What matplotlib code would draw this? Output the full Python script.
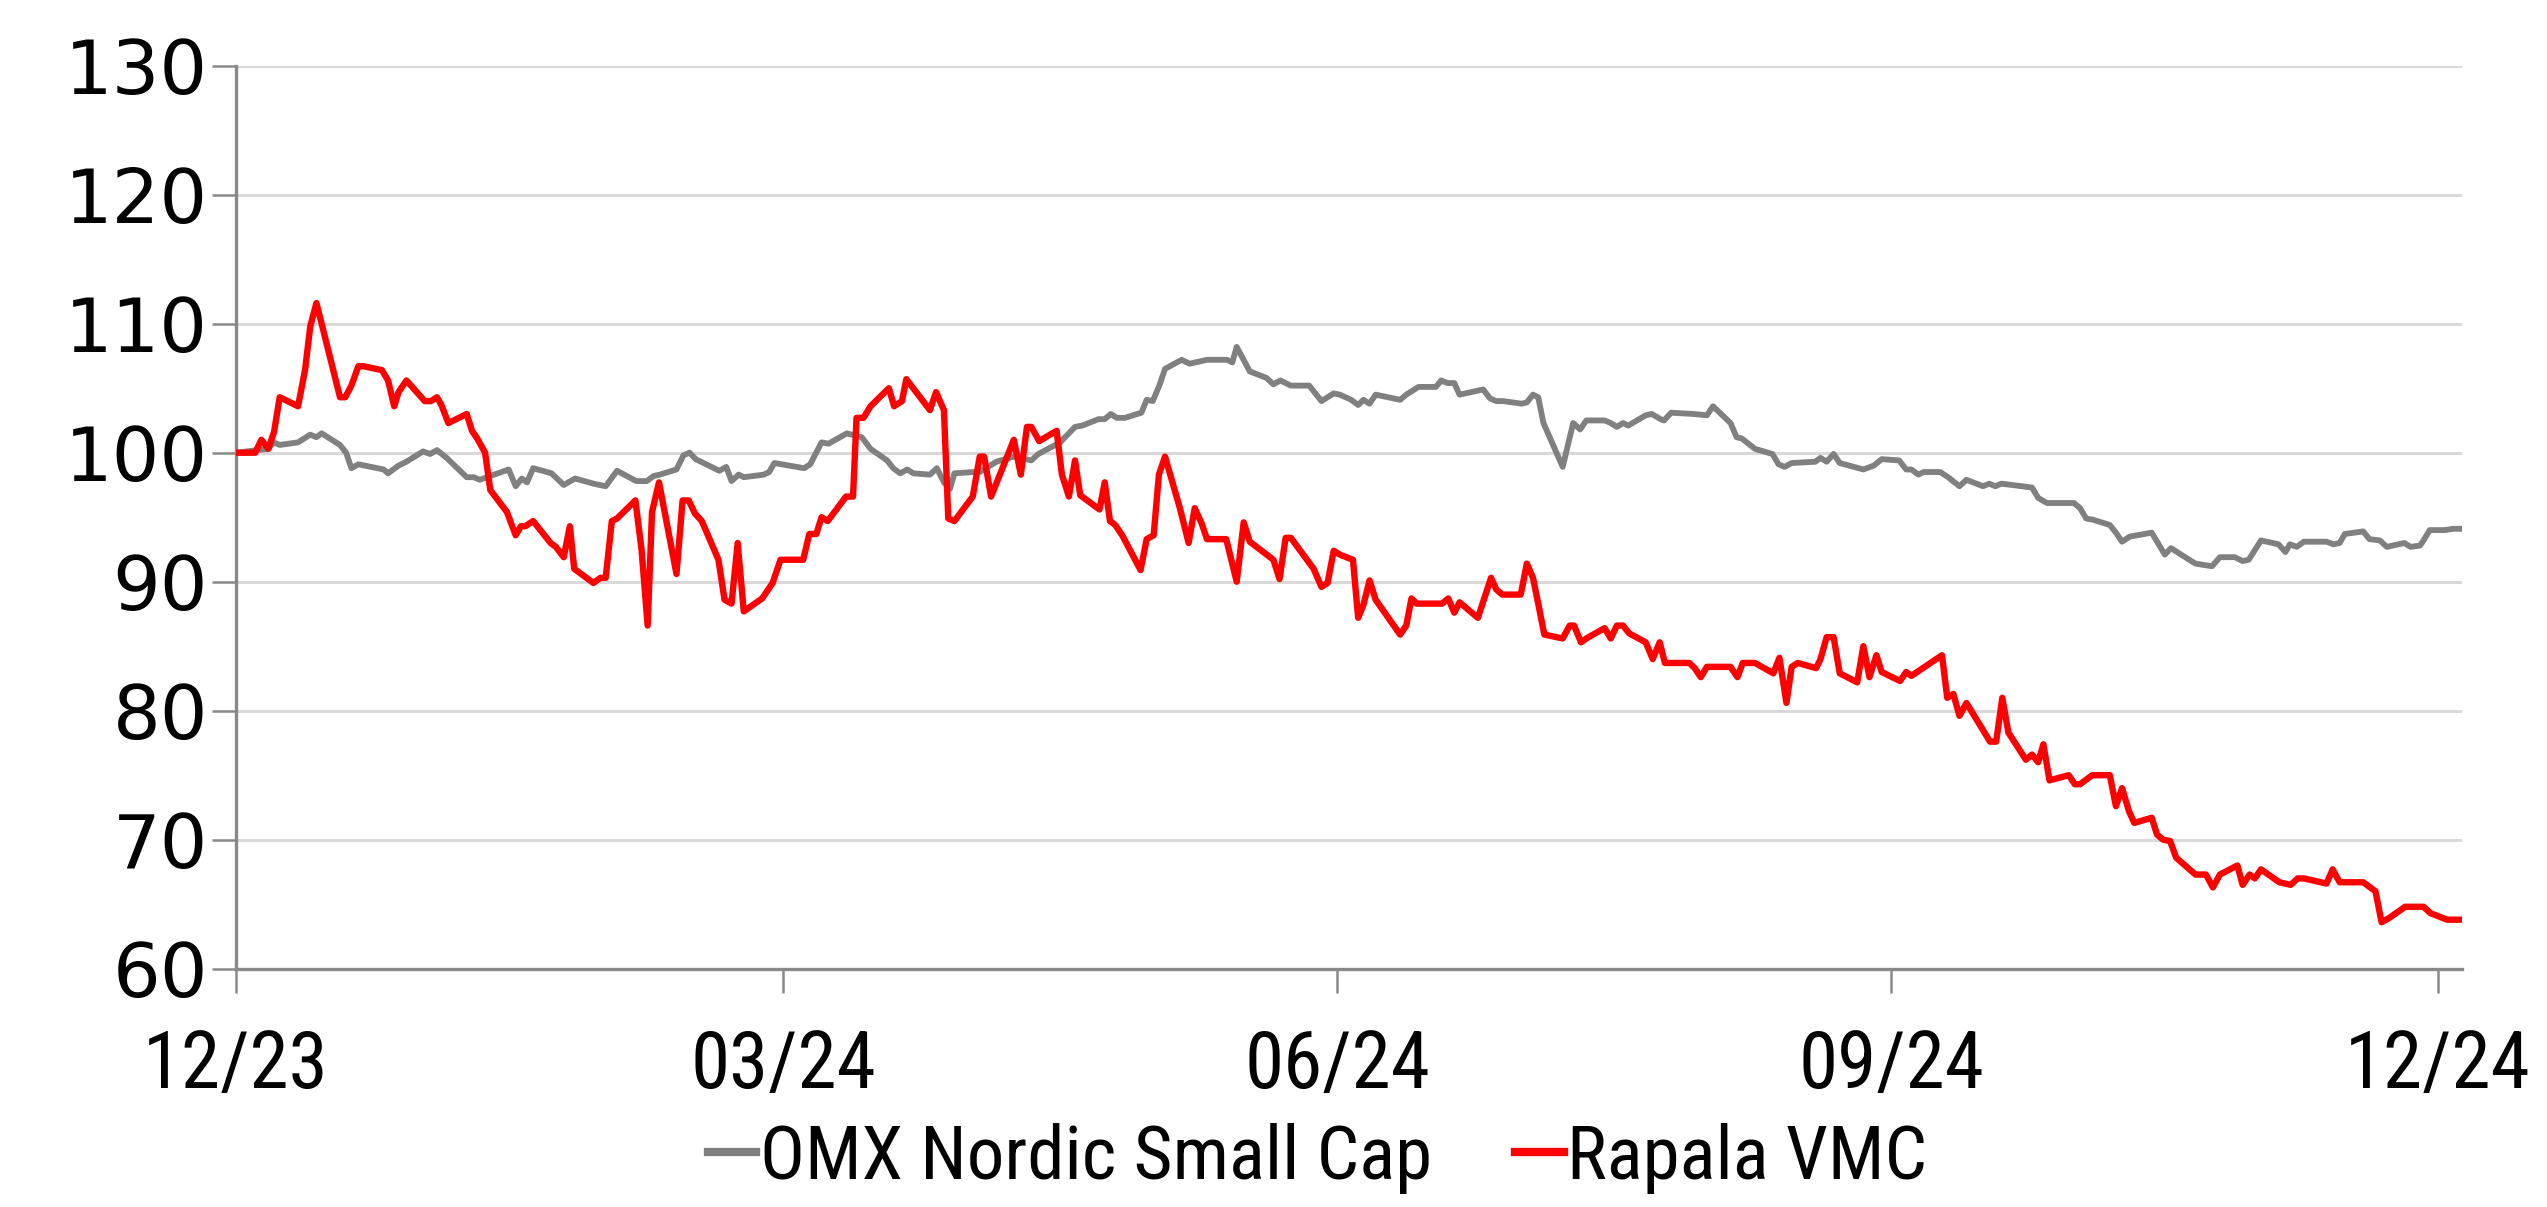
import matplotlib
matplotlib.use("Agg")
import matplotlib.pyplot as plt
from matplotlib import font_manager as fm

# ---- data (x = trading-day position, y = indexed value) ----
omx_x = [0, 3.7, 4.3, 5.0, 7.1, 8.5, 9.2, 9.8, 11.9, 12.6, 13.2, 14.0, 16.9, 17.4, 18.6, 19.5,
         21.4, 22.2, 23.0, 24.1, 26.4, 27.2, 27.9, 28.7, 31.2, 32.0, 32.7, 33.3, 34.0, 36.1,
         37.5, 38.8, 40.9, 42.3, 43.6, 45.8, 47.0, 47.8, 48.5, 50.4, 51.2, 51.9, 52.6, 55.3,
         56.1, 56.7, 57.5, 58.1, 60.4, 61.0, 61.6, 65.0, 65.7, 67.0, 67.8, 69.9, 71.6, 72.6,
         74.5, 75.2, 76.0, 76.8, 77.5, 79.4, 80.2, 81.0, 81.7, 82.2, 84.4, 85.1, 87.0, 89.0,
         91.0, 91.8, 94.3, 96.0, 96.8, 98.7, 99.4, 100.1, 100.8, 101.7, 103.6, 104.2, 104.9,
         105.7, 106.3, 108.2, 109.1, 111.1, 113.4, 114.0, 114.5, 116.0, 117.9, 118.7, 119.5,
         120.7, 122.8, 124.2, 125.6, 126.3, 127.6, 128.4, 129.0, 129.7, 130.4, 133.2, 133.9,
         135.3, 137.3, 137.9, 138.6, 139.4, 140.0, 142.7, 143.5, 144.2, 145.0, 147.1, 147.7,
         148.4, 149.0, 149.6, 151.8, 153.0, 153.8, 154.5, 156.6, 157.3, 158.0, 158.7, 159.3,
         161.3, 162.0, 163.0, 163.4, 164.2, 166.8, 168.3, 169.0, 171.0, 171.7, 172.3, 173.8,
         175.8, 176.5, 177.2, 178.0, 180.7, 181.3, 182.0, 182.8, 183.5, 186.2, 187.4, 188.3,
         190.3, 191.1, 191.7, 192.5, 193.1, 195.0, 195.9, 197.2, 198.0, 199.9, 200.6, 201.3,
         202.0, 205.5, 206.2, 207.2, 210.3, 211.0, 211.7, 212.5, 214.4, 215.1, 215.8, 216.7,
         219.2, 220.7, 221.4, 224.2, 226.1, 227.0, 228.7, 229.6, 230.3, 231.7, 233.7, 234.5,
         235.0, 235.8, 236.6, 239.2, 240.0, 240.7, 241.3, 243.4, 244.1, 245.3, 246.1, 248.1,
         248.8, 249.9, 250.3, 251.0, 252.7, 253.7, 254.5]
omx_y = [100, 100.3, 100.8, 100.6, 100.8, 101.4, 101.2, 101.5, 100.6, 100.0, 98.8, 99.1, 98.7,
         98.4, 99.0, 99.3, 100.1, 99.9, 100.2, 99.6, 98.1, 98.1, 97.9, 98.1, 98.7, 97.4, 98.0,
         97.7, 98.8, 98.4, 97.5, 98.0, 97.6, 97.4, 98.6, 97.8, 97.8, 98.2, 98.3, 98.7, 99.8,
         100.0, 99.5, 98.6, 98.9, 97.8, 98.3, 98.1, 98.3, 98.5, 99.2, 98.8, 99.1, 100.8, 100.7,
         101.5, 101.2, 100.3, 99.4, 98.8, 98.4, 98.7, 98.4, 98.3, 98.8, 97.7, 97.2, 98.4, 98.5,
         98.5, 99.3, 99.7, 99.4, 99.9, 100.8, 102.0, 102.1, 102.6, 102.6, 103.0, 102.7, 102.7,
         103.1, 104.1, 104.0, 105.3, 106.5, 107.2, 106.9, 107.2, 107.2, 107.0, 108.2, 106.3,
         105.8, 105.3, 105.6, 105.2, 105.2, 104.0, 104.6, 104.5, 104.1, 103.7, 104.1, 103.8,
         104.5, 104.1, 104.5, 105.1, 105.1, 105.6, 105.4, 105.4, 104.5, 104.9, 104.2, 104.0,
         104.0, 103.8, 103.9, 104.5, 104.3, 102.3, 98.9, 102.3, 101.8, 102.5, 102.5, 102.3,
         102.0, 102.3, 102.1, 102.9, 103.0, 102.6, 102.5, 103.1, 103.0, 102.9, 103.6, 102.3,
         101.2, 101.1, 100.3, 99.9, 99.1, 98.9, 99.2, 99.3, 99.6, 99.3, 99.9, 99.2, 98.7, 99.0,
         99.5, 99.4, 98.7, 98.7, 98.3, 98.5, 98.5, 98.1, 97.4, 97.9, 97.4, 97.6, 97.4, 97.6,
         97.3, 96.5, 96.1, 96.1, 95.7, 94.9, 94.8, 94.4, 93.8, 93.1, 93.5, 93.8, 92.1, 92.6,
         91.4, 91.2, 91.9, 91.9, 91.6, 91.7, 93.2, 92.9, 92.3, 92.9, 92.7, 93.1, 93.1, 92.9,
         93.0, 93.7, 93.9, 93.3, 93.2, 92.7, 93.0, 92.7, 92.8, 93.2, 94.0, 94.0, 94.1, 94.1]

rap_x = [0, 2.2, 2.9, 3.7, 4.35, 5.0, 7.1, 7.9, 8.5, 9.2, 9.8, 11.9, 12.5, 13.2, 14.0, 14.6,
         16.7, 17.4, 18.1, 18.6, 19.5, 21.6, 22.3, 23.0, 23.5, 24.3, 26.4, 27.0, 27.6, 28.5,
         29.1, 31.0, 32.0, 32.6, 33.1, 34.0, 36.0, 36.6, 37.5, 38.2, 38.7, 40.9, 41.7, 42.3,
         43.0, 43.6, 45.7, 46.4, 47.1, 47.6, 48.4, 50.4, 51.1, 51.8, 52.5, 53.3, 55.2, 55.9,
         56.7, 57.4, 58.1, 60.2, 61.4, 62.3, 64.9, 65.6, 66.4, 67.0, 67.7, 69.8, 70.6, 71.0,
         71.8, 72.6, 74.7, 75.3, 76.2, 76.7, 79.4, 80.1, 81.0, 81.5, 82.2, 84.3, 85.1, 85.6,
         86.4, 89.0, 89.8, 90.5, 91.0, 91.9, 93.9, 94.5, 95.3, 96.0, 96.6, 98.8, 99.4, 100.0,
         100.6, 101.4, 103.5, 104.2, 105.0, 105.6, 106.3, 108.0, 109.0, 109.7, 110.5, 111.1,
         113.3, 114.5, 115.3, 116.0, 118.7, 119.4, 120.1, 120.7, 123.3, 124.2, 124.9, 125.6,
         126.3, 127.8, 128.4, 129.0, 129.7, 130.4, 133.2, 133.9, 134.5, 135.1, 138.0, 138.7,
         139.4, 140.0, 142.1, 143.6, 144.2, 144.9, 147.0, 147.7, 148.4, 149.0, 149.7, 151.8,
         152.6, 153.1, 153.9, 154.5, 156.6, 157.3, 158.0, 158.7, 159.4, 161.3, 162.1, 162.9,
         163.5, 166.3, 166.9, 167.6, 168.3, 171.0, 171.8, 172.4, 173.8, 175.9, 176.6, 177.4,
         178.0, 178.7, 180.8, 181.3, 182.0, 182.8, 183.5, 185.5, 186.2, 186.9, 187.7, 188.3,
         190.4, 191.1, 191.7, 195.2, 195.8, 196.5, 197.2, 198.0, 200.7, 201.4, 202.1, 202.8,
         204.8, 205.5, 206.2, 206.8, 207.5, 209.7, 210.4, 211.0, 212.4, 214.4, 215.1, 215.8,
         216.6, 217.2, 219.2, 219.8, 220.5, 221.3, 222.0, 224.2, 225.4, 226.2, 227.0, 229.0,
         229.6, 230.4, 231.0, 231.7, 233.8, 235.1, 235.9, 236.6, 239.2, 239.9, 240.7, 243.4,
         244.8, 245.5, 246.3, 248.2, 250.3, 251.1, 253.0, 254.5]
rap_y = [100, 100, 101.0, 100.3, 101.6, 104.3, 103.6, 106.4, 109.8, 111.6, 110.0, 104.3, 104.3,
         105.2, 106.7, 106.7, 106.4, 105.6, 103.6, 104.7, 105.6, 104.0, 104.0, 104.3, 103.7,
         102.3, 103.0, 101.7, 101.1, 100.0, 97.1, 95.4, 93.6, 94.3, 94.3, 94.7, 93.0, 92.7,
         91.9, 94.3, 91.0, 89.9, 90.3, 90.3, 94.7, 94.9, 96.3, 92.5, 86.6, 95.4, 97.7, 90.6,
         96.3, 96.3, 95.3, 94.7, 91.7, 88.6, 88.3, 93.0, 87.7, 88.7, 89.9, 91.7, 91.7, 93.7,
         93.7, 95.0, 94.7, 96.6, 96.6, 102.7, 102.7, 103.6, 105.0, 103.6, 104.0, 105.7, 103.3,
         104.7, 103.3, 94.9, 94.7, 96.6, 99.7, 99.7, 96.6, 101.0, 98.3, 102.0, 102.0, 100.9,
         101.7, 98.3, 96.6, 99.4, 96.7, 95.6, 97.7, 94.7, 94.4, 93.6, 90.9, 93.3, 93.6, 98.3,
         99.7, 95.7, 93.0, 95.7, 94.5, 93.3, 93.3, 90.0, 94.6, 93.1, 91.7, 90.2, 93.4, 93.4,
         91.0, 89.6, 89.9, 92.4, 92.1, 91.7, 87.2, 88.2, 90.1, 88.6, 85.9, 86.6, 88.7, 88.3,
         88.3, 88.7, 87.6, 88.4, 87.2, 90.3, 89.4, 89.0, 89.0, 91.4, 90.3, 88.3, 85.9, 85.6,
         86.6, 86.6, 85.3, 85.6, 86.4, 85.6, 86.6, 86.6, 86.0, 85.3, 84.0, 85.3, 83.7, 83.7,
         83.3, 82.6, 83.4, 83.4, 82.6, 83.7, 83.7, 82.9, 84.1, 80.6, 83.4, 83.7, 83.3, 84.0,
         85.7, 85.7, 82.9, 82.2, 85.0, 82.6, 84.3, 83.0, 82.3, 83.0, 82.7, 84.3, 81.0, 81.3,
         79.6, 80.6, 77.6, 77.6, 81.0, 78.3, 76.2, 76.6, 76.0, 77.4, 74.6, 75.0, 74.3, 74.3,
         75.0, 75.0, 72.6, 74.0, 72.2, 71.3, 71.7, 70.4, 70.0, 69.9, 68.6, 67.3, 67.3, 66.3,
         67.3, 68.0, 66.5, 67.3, 67.0, 67.7, 66.7, 66.5, 67.0, 67.0, 66.6, 67.7, 66.7, 66.7,
         66.0, 63.6, 63.9, 64.8, 64.8, 64.3, 63.8, 63.8]

tick_pos = [0, 62.6, 126.0, 189.4, 251.9]
tick_labels = ["12/23", "03/24", "06/24", "09/24", "12/24"]
y_ticks = [60, 70, 80, 90, 100, 110, 120, 130]
series_names = ["OMX Nordic Small Cap", "Rapala VMC"]

# ---- font ----
available = {f.name for f in fm.fontManager.ttflist}
family = "DejaVu Sans"
for cand in ["Roboto Condensed", "Liberation Sans Narrow", "Noto Sans Condensed",
             "Open Sans Condensed", "Roboto", "Liberation Sans"]:
    if cand in available:
        family = cand
        break
plt.rcParams["font.family"] = [family, "DejaVu Sans"]

FS = 57
fig = plt.figure(figsize=(25.47, 12.07), dpi=100)
ax = fig.add_axes([236 / 2547, 1 - 968.7 / 1207, (2462 - 236) / 2547, (968.7 - 65.7) / 1207])

ax.plot(omx_x, omx_y, color="#808080", lw=4.2, solid_joinstyle="round", label=series_names[0], zorder=3)
ax.plot(rap_x, rap_y, color="#FF0000", lw=4.6, solid_joinstyle="round", label=series_names[1], zorder=4)

ax.set_xlim(0, 254.7)
ax.set_ylim(60, 130)
ax.set_yticks(y_ticks)
ax.set_yticklabels([str(v) for v in y_ticks], fontfamily="DejaVu Sans", fontsize=54)
ax.set_xticks(tick_pos)
ax.set_xticklabels(tick_labels)
ax.yaxis.grid(True, color="#D9D9D9", lw=2.2)
ax.set_axisbelow(True)
for s in ["top", "right"]:
    ax.spines[s].set_visible(False)
for s in ["left", "bottom"]:
    ax.spines[s].set_color("#898989")
    ax.spines[s].set_linewidth(2.4)
ax.tick_params(axis="both", direction="out", length=17, width=1.8, color="#898989",
               labelcolor="black")
ax.tick_params(axis="x", labelsize=FS, pad=26)
ax.tick_params(axis="y", pad=3)

leg = fig.legend(loc="center", bbox_to_anchor=(0.5173, 1 - 1158 / 1207), ncol=2, frameon=False,
                 fontsize=54, handlelength=0.65, handletextpad=0.05, columnspacing=1.1,
                 borderaxespad=0.0, borderpad=0.0)
for h in leg.get_lines():
    h.set_linewidth(6.0)

fig.savefig("out.png", dpi=100)
